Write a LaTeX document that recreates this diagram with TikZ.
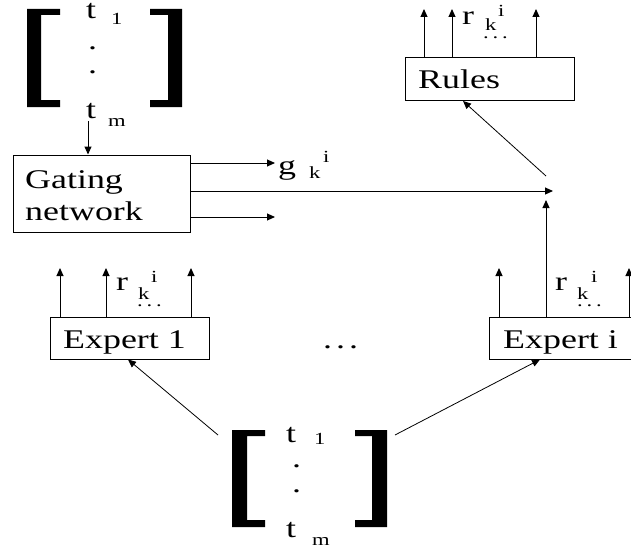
\documentclass[tikz,border=0pt]{standalone}
\usepackage{fontspec}
\setmainfont{Liberation Serif}
\usetikzlibrary{arrows.meta}
\newcommand\fbig{\fontsize{27}{32}\selectfont}
\newcommand\fsml{\fontsize{17}{19}\selectfont}
\newcommand\wt[1]{\scalebox{1.33}[1]{#1}}
\tikzset{
  box/.style={draw, line width=1pt, inner sep=0pt},
  big/.style={font=\fbig, inner sep=0pt, anchor=base west},
  sml/.style={font=\fsml, inner sep=0pt, anchor=base west},
  arr/.style={line width=1pt, -{Triangle[length=8pt,width=7pt]}},
  brk/.style={fill=black, draw=none}
}
\begin{document}
\begin{tikzpicture}[x=1pt,y=-1pt]
\useasboundingbox (0,0) rectangle (631,551);
% ---------- top vector ----------
\fill[brk] (27,9) -- (60,9) -- (60,15) -- (41,15) -- (41,100) -- (60,100) -- (60,107) -- (27,107) -- cycle;
\fill[brk] (182,9) -- (150,9) -- (150,15) -- (168,15) -- (168,100) -- (150,100) -- (150,107) -- (182,107) -- cycle;
\node[big] (tt1) at (86,19) {\wt{t}};
\node[sml] (tt1s) at (111,25) {\wt{1}};
\node[big] (tdot1) at (88,49) {\wt{.}};
\node[big] (tdot2) at (88,73) {\wt{.}};
\node[big] (ttm) at (86,118) {\wt{t}};
\node[sml] (ttms) at (108,126) {\wt{m}};
% ---------- gating network ----------
\node[box, minimum width=177pt, minimum height=77pt] (gate) at (101.5,193.5) {};
\node[big] (gate1) at (25,188) {\wt{Gating}};
\node[big] (gate2) at (25,220) {\wt{network}};
\coordinate (gtop) at (88,121);
\draw[arr] (gtop) -- (gtop |- gate.north);
\coordinate (g1) at (275,163);
\coordinate (g3) at (275,217);
\coordinate (jA) at (553,191);
\draw[arr] (gate.east |- g1) -- (g1);
\draw[arr] (gate.east |- jA) -- (jA);
\draw[arr] (gate.east |- g3) -- (g3);
\node[big] (glab) at (278,174) {\wt{g}};
\node[sml] (glabk) at (309,178) {\wt{k}};
\node[sml] (glabi) at (323,162) {\wt{i}};
% ---------- rules ----------
\node[box, minimum width=169pt, minimum height=43pt] (rules) at (489.5,79) {};
\node[big] (rulest) at (418,88) {\wt{Rules}};
\coordinate (ra) at (424,9);
\coordinate (rb) at (452,9);
\coordinate (rc) at (536,9);
\draw[arr] (rules.north -| ra) -- (ra);
\draw[arr] (rules.north -| rb) -- (rb);
\draw[arr] (rules.north -| rc) -- (rc);
\node[big] (rlab) at (462,25) {\wt{r}};
\node[sml] (rlabk) at (485,31) {\wt{k}};
\node[sml] (rlabi) at (498,17) {\wt{i}};
\node[sml] (rlabd) at (483,39) {\wt{.\,.\,.}};
\coordinate (jC) at (546,176);
\coordinate (rin) at (463,101);
\draw[arr, line width=0.8pt] (jC) -- (rin);
% ---------- expert 1 ----------
\node[box, minimum width=159pt, minimum height=42pt] (exp1) at (129.5,338) {};
\node[big] (exp1t) at (63,348) {\wt{Expert 1}};
\coordinate (ea) at (60,268);
\coordinate (eb) at (106,268);
\coordinate (ec) at (191,268);
\draw[arr] (exp1.north -| ea) -- (ea);
\draw[arr] (exp1.north -| eb) -- (eb);
\draw[arr] (exp1.north -| ec) -- (ec);
\node[big] (e1lab) at (116,290) {\wt{r}};
\node[sml] (e1labk) at (138,299) {\wt{k}};
\node[sml] (e1labi) at (151,282) {\wt{i}};
\node[sml] (e1labd) at (137,306) {\wt{.\,.\,.}};
% ---------- middle dots ----------
\node[big] (mdots) at (323,348) {\wt{.\hspace{3pt}.\hspace{3pt}.}};
% ---------- expert i ----------
\node[box, minimum width=160pt, minimum height=42pt] (expi) at (569,338) {};
\node[big] (expit) at (503,348) {\wt{Expert i}};
\coordinate (fa) at (499,268);
\coordinate (jB) at (546,200);
\coordinate (fc) at (629,268);
\draw[arr] (expi.north -| fa) -- (fa);
\draw[arr] (expi.north -| jB) -- (jB);
\draw[arr] (expi.north -| fc) -- (fc);
\node[big] (eilab) at (555,290) {\wt{r}};
\node[sml] (eilabk) at (577,299) {\wt{k}};
\node[sml] (eilabi) at (591,282) {\wt{i}};
\node[sml] (eilabd) at (577,306) {\wt{.\,.\,.}};
% ---------- bottom vector ----------
\fill[brk] (232,430) -- (265,430) -- (265,436) -- (247,436) -- (247,520) -- (265,520) -- (265,527) -- (232,527) -- cycle;
\fill[brk] (387,430) -- (355,430) -- (355,436) -- (372,436) -- (372,520) -- (355,520) -- (355,527) -- (387,527) -- cycle;
\node[big] (bt1) at (286,442) {\wt{t}};
\node[sml] (bt1s) at (314,444) {\wt{1}};
\node[big] (bdot1) at (292,467) {\wt{.}};
\node[big] (bdot2) at (292,492) {\wt{.}};
\node[big] (btm) at (286,537) {\wt{t}};
\node[sml] (btms) at (312,545) {\wt{m}};
\coordinate (bl) at (218,435);
\coordinate (br) at (395,435);
\draw[arr, line width=0.8pt] (bl) -- (exp1.south -| 128,0);
\draw[arr, line width=0.8pt] (br) -- (expi.south -| 540,0);
\end{tikzpicture}
\end{document}
